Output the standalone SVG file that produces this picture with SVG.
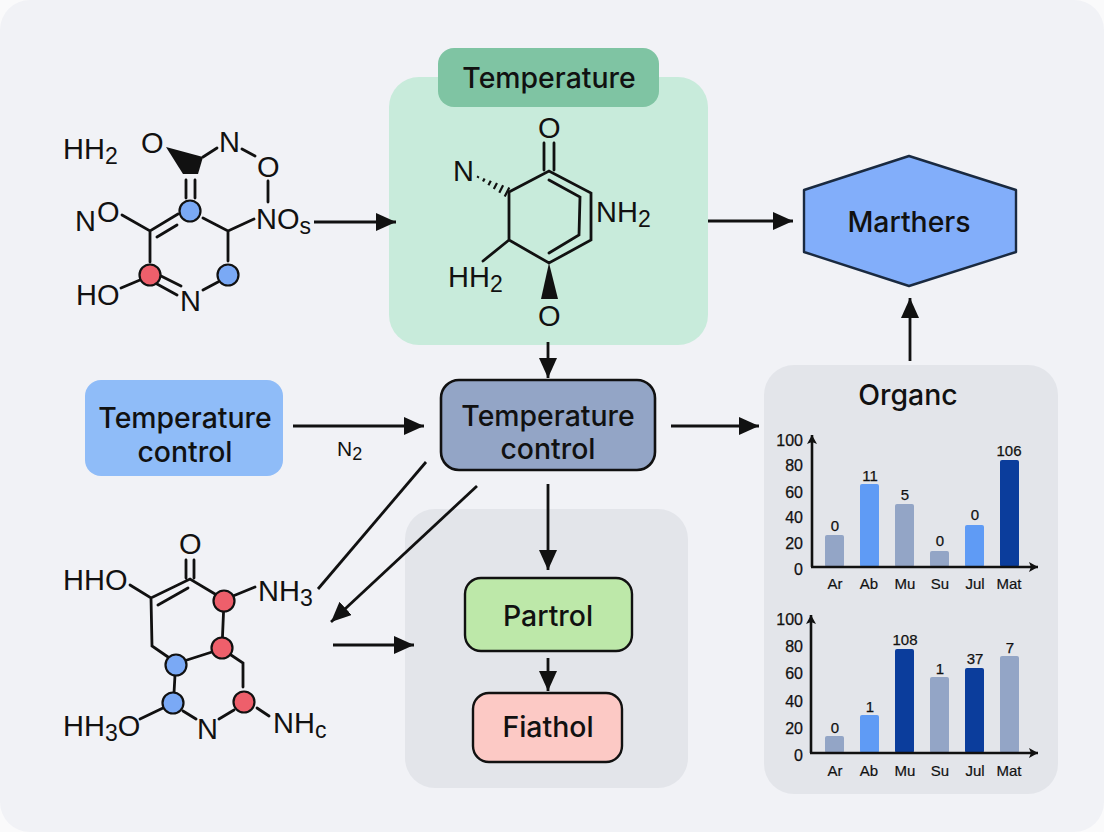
<svg xmlns="http://www.w3.org/2000/svg" width="1104" height="832" viewBox="0 0 1104 832">
<defs>
<marker id="ah" markerUnits="userSpaceOnUse" markerWidth="22" markerHeight="20" refX="20" refY="9" orient="auto"><path d="M0 0L20 9L0 18Z" fill="#111"/></marker>
<marker id="sh" markerUnits="userSpaceOnUse" markerWidth="12" markerHeight="12" refX="9" refY="5" orient="auto"><path d="M0 0L9 5L0 10L2 5Z" fill="#111"/></marker>
</defs>
<style>
text{font-family:"Liberation Sans",Arial,sans-serif;fill:#111}
.m{font-size:29px}
.sub{font-size:23px}
.b{stroke:#111;stroke-width:2.8;fill:none;stroke-linecap:round}
.blue{fill:#7aa9f5;stroke:#111;stroke-width:2.2}
.red{fill:#ee5f6b;stroke:#111;stroke-width:2.2}
.lab{font-family:Inter,"Liberation Sans",sans-serif;font-size:28.4px;text-anchor:middle;font-weight:500}
.conn{stroke:#111;stroke-width:2.8;fill:none}
.t{font-size:16px;text-anchor:end;stroke:#111;stroke-width:.25}
.x{font-size:15px;text-anchor:middle;stroke:#111;stroke-width:.2}
.v{font-size:15px;text-anchor:middle;stroke:#111;stroke-width:.25}
.axis{stroke:#111;stroke-width:2.6;fill:none;marker-end:url(#sh)}
.g{fill:#93a5c6}.l{fill:#5f9bf5}.d{fill:#0b3d9c}
</style>
<rect width="1104" height="832" fill="#fafafb"/>
<rect width="1104" height="832" rx="30" fill="#f1f2f6"/>

<g id="panel-temperature">
<rect x="389" y="77" width="319" height="268" rx="30" fill="#c8ebdb"/>
<rect x="438" y="48" width="221" height="59" rx="16" fill="#7fc4a3"/>
<text class="lab" x="549" y="88">Temperature</text>
</g>
<g id="panel-process"><rect x="405" y="509" width="283" height="279" rx="30" fill="#e3e5ea"/></g>
<g id="panel-organc">
<rect x="764" y="365" width="294" height="429" rx="30" fill="#e3e5ea"/>
<text class="lab" x="908" y="405">Organc</text>
</g>

<g id="molecule-1">
<path class="b" d="M217 148L203 157M242 149L255 156M268 181V202M186 180V198M195 180V198M122 215L150 231L178 214M157 237L177 225M203 218L228 231L254 219M228 231V261M150 231V262M121 288L140 280M161 276L181 286M157 284L177 295M203 290L218 282"/>
<path d="M166 147L203 157L198 174H183Z" fill="#111"/>
<circle class="blue" cx="190" cy="211" r="10.5"/><circle class="red" cx="150" cy="275" r="10.5"/><circle class="blue" cx="228" cy="275" r="10.5"/>
<text class="m" x="63" y="159">HH<tspan class="sub" dy="5">2</tspan></text>
<text class="m" x="141" y="153">O</text><text class="m" x="219" y="152">N</text><text class="m" x="257" y="177">O</text>
<text class="m" x="75" y="231">N</text><text class="m" x="97" y="222">O</text>
<text class="m" x="256" y="229">NO<tspan class="sub" dy="5">s</tspan></text>
<text class="m" x="76" y="305">HO</text><text class="m" x="180" y="311">N</text>
</g>

<g id="molecule-2">
<path class="b" d="M544 143V170M554 143V170M509 192L549 171L591 193V240L549 263L509 240V192M549 180L580 197L579 235L549 253M509 240L483 261"/>
<path d="M509.3 187.6L504.7 196.4M503.1 185.3L499.3 192.7M497 183L493.8 189M490.8 180.7L488.4 185.3M484.6 178.4L483 181.6M478.5 176.1L477.5 177.9" stroke="#111" stroke-width="2.2" fill="none"/>
<path d="M549 263L558 299H541Z" fill="#111"/>
<text class="m" x="538" y="138">O</text><text class="m" x="453" y="181">N</text>
<text class="m" x="596" y="222">NH<tspan class="sub" dy="5">2</tspan></text>
<text class="m" x="448" y="287">HH<tspan class="sub" dy="5">2</tspan></text>
<text class="m" x="538" y="326">O</text>
</g>

<g id="molecule-3">
<path class="b" d="M186 560V578M194 560V578M130 585L151 598L190 579L215 594M158 605L188 588M151 598L152 646L168 657M224 601L222 648M233 596L255 587M187 660L212 652M231 655L243 663V687M175 675L174 693M140 719L163 708M183 711L196 719M219 719L234 710M257 708L269 716"/>
<circle class="red" cx="224" cy="601" r="10.5"/><circle class="red" cx="222" cy="648" r="10.5"/><circle class="blue" cx="176" cy="665" r="10.5"/><circle class="blue" cx="173" cy="703" r="10.5"/><circle class="red" cx="244" cy="702" r="10.5"/>
<text class="m" x="179" y="554">O</text><text class="m" x="63" y="590">HHO</text>
<text class="m" x="258" y="601">NH<tspan class="sub" dy="5">3</tspan></text>
<text class="m" x="63" y="736">HH<tspan class="sub" dy="5">3</tspan><tspan dy="-5">O</tspan></text>
<text class="m" x="197" y="739">N</text>
<text class="m" x="273" y="733">NH<tspan class="sub" dy="5">c</tspan></text>
</g>

<g id="connectors">
<path class="conn" marker-end="url(#ah)" d="M314 222H396"/>
<path class="conn" marker-end="url(#ah)" d="M708 221H793"/>
<path class="conn" marker-end="url(#ah)" d="M910 361V298"/>
<path class="conn" marker-end="url(#ah)" d="M548 342V378"/>
<path class="conn" marker-end="url(#ah)" d="M293 426H424"/>
<path class="conn" marker-end="url(#ah)" d="M671 426H759"/>
<path class="conn" d="M426 462L318 589"/>
<path class="conn" marker-end="url(#ah)" d="M477 486L331 622"/>
<path class="conn" marker-end="url(#ah)" d="M548 484V570"/>
<path class="conn" marker-end="url(#ah)" d="M333 645H414"/>
<path class="conn" marker-end="url(#ah)" d="M548 658V691"/>
<text x="337" y="456" font-size="21">N<tspan font-size="18" dy="4">2</tspan></text>
</g>

<g id="node-hex">
<path d="M804 190L909 156L1016 190V252L909 286L804 252Z" fill="#82aefa" stroke="#1a2a40" stroke-width="2.4" stroke-linejoin="round"/>
<text class="lab" x="909" y="232">Marthers</text>
</g>
<g id="node-control-left">
<rect x="85" y="380" width="198" height="96" rx="16" fill="#8fbcf8"/>
<text class="lab" x="185" y="428">Temperature</text><text class="lab" x="185" y="462">control</text>
</g>
<g id="node-control">
<rect x="441" y="380" width="214" height="90" rx="18" fill="#93a5c6" stroke="#111" stroke-width="2.6"/>
<text class="lab" x="548" y="426">Temperature</text><text class="lab" x="548" y="459">control</text>
</g>
<g id="node-partrol">
<rect x="465" y="578" width="167" height="73" rx="16" fill="#bde8a9" stroke="#111" stroke-width="2.4"/>
<text class="lab" x="548" y="626">Partrol</text>
</g>
<g id="node-fiathol">
<rect x="473" y="693" width="149" height="69" rx="16" fill="#fcc9c5" stroke="#111" stroke-width="2.4"/>
<text class="lab" x="548" y="737">Fiathol</text>
</g>

<g id="chart-1">
<rect class="g" x="825" y="535" width="19" height="32" rx="2"/><rect class="l" x="860" y="484" width="19" height="83" rx="2"/><rect class="g" x="895" y="504" width="19" height="63" rx="2"/><rect class="g" x="930" y="551" width="19" height="16" rx="2"/><rect class="l" x="965" y="525" width="19" height="42" rx="2"/><rect class="d" x="1000" y="460" width="19" height="107" rx="2"/>
<path class="axis" d="M812 567V435"/><path class="axis" d="M811 567H1038"/>
<text class="t" x="803" y="446">100</text><text class="t" x="803" y="471">80</text><text class="t" x="803" y="498">60</text><text class="t" x="803" y="523">40</text><text class="t" x="803" y="549">20</text><text class="t" x="803" y="575">0</text>
<text class="v" x="835" y="531">0</text><text class="v" x="870" y="481">11</text><text class="v" x="905" y="500">5</text><text class="v" x="940" y="546">0</text><text class="v" x="975" y="520">0</text><text class="v" x="1009" y="456">106</text>
<text class="x" x="835" y="589">Ar</text><text class="x" x="869" y="589">Ab</text><text class="x" x="905" y="589">Mu</text><text class="x" x="940" y="589">Su</text><text class="x" x="975" y="589">Jul</text><text class="x" x="1009" y="589">Mat</text>
</g>
<g id="chart-2">
<rect class="g" x="825" y="736" width="19" height="17" rx="2"/><rect class="l" x="860" y="715" width="19" height="38" rx="2"/><rect class="d" x="895" y="649" width="19" height="104" rx="2"/><rect class="g" x="930" y="677" width="19" height="76" rx="2"/><rect class="d" x="965" y="668" width="19" height="85" rx="2"/><rect class="g" x="1000" y="656" width="19" height="97" rx="2"/>
<path class="axis" d="M811 753V615"/><path class="axis" d="M810 753H1038"/>
<text class="t" x="803" y="625">100</text><text class="t" x="803" y="652">80</text><text class="t" x="803" y="679">60</text><text class="t" x="803" y="707">40</text><text class="t" x="803" y="734">20</text><text class="t" x="803" y="761">0</text>
<text class="v" x="835" y="733">0</text><text class="v" x="870" y="712">1</text><text class="v" x="905" y="645">108</text><text class="v" x="940" y="674">1</text><text class="v" x="975" y="664">37</text><text class="v" x="1010" y="653">7</text>
<text class="x" x="835" y="776">Ar</text><text class="x" x="869" y="776">Ab</text><text class="x" x="905" y="776">Mu</text><text class="x" x="940" y="776">Su</text><text class="x" x="975" y="776">Jul</text><text class="x" x="1009" y="776">Mat</text>
</g>
</svg>
